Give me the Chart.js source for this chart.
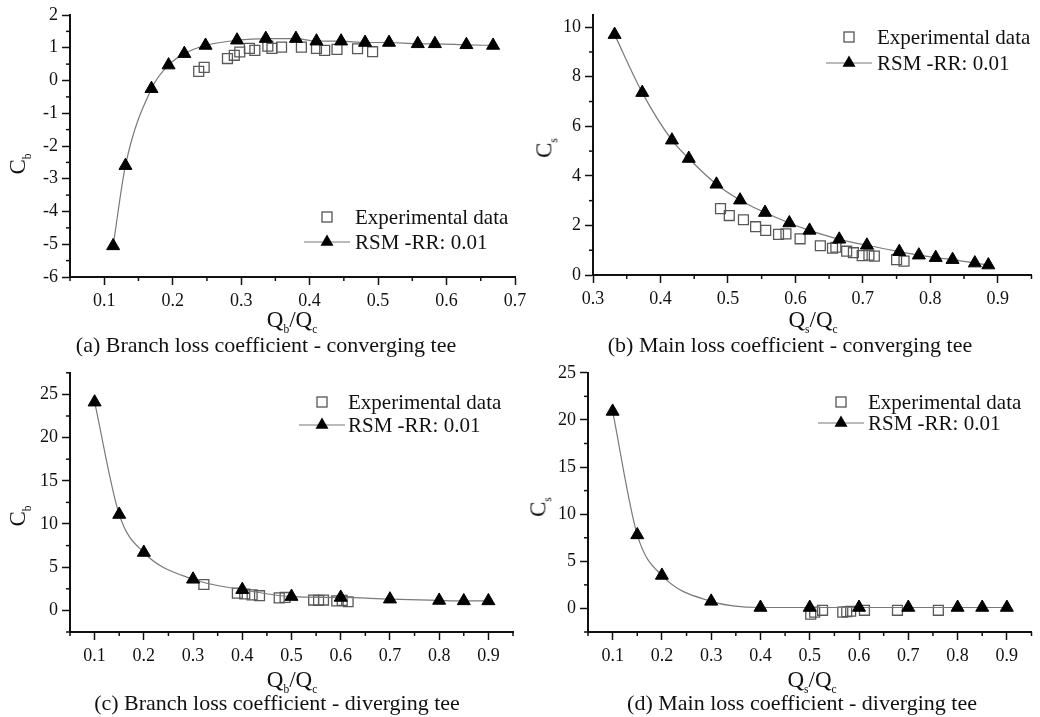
<!DOCTYPE html>
<html>
<head>
<meta charset="utf-8">
<script src="https://cdn.jsdelivr.net/npm/chart.js"></script>
<style>
  body { margin: 0; background: #fff; }
  #wrap { position: relative; width: 1040px; height: 717px; overflow: hidden;
          font-family: "Liberation Serif", "Times New Roman", serif; color: #111; }
  canvas { position: absolute; }
  .t { position: absolute; white-space: nowrap; transform: translate(-50%, -50%); line-height: 1; }
  .cap { font-size: 22px; }
  .ax { font-size: 23px; }
  .ax sub { font-size: 0.5em; vertical-align: -0.5em; }
  .yl { transform: translate(-50%, -50%) rotate(-90deg); }
  .lg { position: absolute; white-space: nowrap; font-size: 21px; line-height: 1; transform: translateY(-50%); }
</style>
</head>
<body>
<div id="wrap">
  <canvas id="chartA" width="560" height="360" style="left:0;top:0"></canvas>
  <canvas id="chartB" width="540" height="360" style="left:500px;top:0"></canvas>
  <canvas id="chartC" width="560" height="359" style="left:0;top:358px"></canvas>
  <canvas id="chartD" width="540" height="359" style="left:500px;top:358px"></canvas>

  <!-- axis titles -->
  <div class="t ax yl" style="left:20px;top:164px">C<sub>b</sub></div>
  <div class="t ax yl" style="left:546px;top:148px">C<sub>s</sub></div>
  <div class="t ax yl" style="left:20px;top:516px">C<sub>b</sub></div>
  <div class="t ax yl" style="left:540px;top:507px">C<sub>s</sub></div>
  <div class="t ax" style="left:292px;top:322px">Q<sub>b</sub>/Q<sub>c</sub></div>
  <div class="t ax" style="left:813px;top:322px">Q<sub>s</sub>/Q<sub>c</sub></div>
  <div class="t ax" style="left:292px;top:682px">Q<sub>b</sub>/Q<sub>c</sub></div>
  <div class="t ax" style="left:812px;top:682px">Q<sub>s</sub>/Q<sub>c</sub></div>

  <!-- captions -->
  <div class="t cap" style="left:266px;top:345px">(a) Branch loss coefficient - converging tee</div>
  <div class="t cap" style="left:790px;top:345px">(b) Main loss coefficient - converging tee</div>
  <div class="t cap" style="left:277px;top:703px">(c) Branch loss coefficient - diverging tee</div>
  <div class="t cap" style="left:802px;top:703px">(d) Main loss coefficient - diverging tee</div>

  <!-- legends -->
  <div class="lg" style="left:355px;top:217px">Experimental data</div>
  <div class="lg" style="left:355px;top:242px">RSM -RR: 0.01</div>
  <div class="lg" style="left:877px;top:37px">Experimental data</div>
  <div class="lg" style="left:877px;top:63px">RSM -RR: 0.01</div>
  <div class="lg" style="left:348px;top:402px">Experimental data</div>
  <div class="lg" style="left:348px;top:425px">RSM -RR: 0.01</div>
  <div class="lg" style="left:868px;top:402px">Experimental data</div>
  <div class="lg" style="left:868px;top:423px">RSM -RR: 0.01</div>
</div>

<script>
// (a) branch loss coefficient, converging tee
const aExpQ = [0.238, 0.246, 0.28, 0.29, 0.298, 0.312, 0.32, 0.339, 0.345, 0.359, 0.388, 0.41, 0.422, 0.44, 0.47, 0.492];
const aExpC = [0.28, 0.4, 0.67, 0.77, 0.87, 0.98, 0.92, 1.05, 0.98, 1.02, 1.02, 0.98, 0.92, 0.95, 0.97, 0.88];
const aRsmQ = [0.113, 0.131, 0.169, 0.194, 0.217, 0.248, 0.294, 0.336, 0.38, 0.41, 0.446, 0.481, 0.516, 0.558, 0.583, 0.629, 0.668];
const aRsmC = [-5.05, -2.6, -0.25, 0.47, 0.82, 1.07, 1.23, 1.28, 1.28, 1.2, 1.2, 1.16, 1.16, 1.12, 1.12, 1.09, 1.07];
const aXTicks = [0.1, 0.2, 0.3, 0.4, 0.5, 0.6, 0.7];
const aYTicks = [-6, -5, -4, -3, -2, -1, 0, 1, 2];

// (b) main loss coefficient, converging tee
const bExpQ = [0.489, 0.502, 0.523, 0.541, 0.556, 0.575, 0.586, 0.607, 0.637, 0.655, 0.66, 0.676, 0.686, 0.699, 0.709, 0.717, 0.75, 0.761];
const bExpC = [2.68, 2.4, 2.23, 1.95, 1.8, 1.64, 1.66, 1.46, 1.18, 1.08, 1.12, 0.96, 0.9, 0.78, 0.8, 0.76, 0.62, 0.56];
const bRsmQ = [0.332, 0.373, 0.417, 0.442, 0.483, 0.518, 0.555, 0.591, 0.621, 0.665, 0.706, 0.754, 0.783, 0.808, 0.833, 0.866, 0.886];
const bRsmC = [9.7, 7.36, 5.44, 4.7, 3.66, 3.02, 2.52, 2.1, 1.8, 1.44, 1.2, 0.94, 0.8, 0.7, 0.62, 0.48, 0.4];
const bXTicks = [0.3, 0.4, 0.5, 0.6, 0.7, 0.8, 0.9];
const bYTicks = [0, 2, 4, 6, 8, 10];

// (c) branch loss coefficient, diverging tee
const cExpQ = [0.322, 0.39, 0.405, 0.42, 0.435, 0.475, 0.487, 0.545, 0.555, 0.565, 0.592, 0.603, 0.615];
const cExpC = [3.0, 2.0, 1.9, 1.8, 1.7, 1.45, 1.5, 1.2, 1.15, 1.2, 1.1, 1.15, 1.0];
const cRsmQ = [0.1, 0.15, 0.2, 0.3, 0.4, 0.5, 0.6, 0.7, 0.8, 0.85, 0.9];
const cRsmC = [24.1, 11.1, 6.7, 3.6, 2.4, 1.6, 1.5, 1.3, 1.15, 1.1, 1.1];
const cXTicks = [0.1, 0.2, 0.3, 0.4, 0.5, 0.6, 0.7, 0.8, 0.9];
const cYTicks = [0, 5, 10, 15, 20, 25];

// (d) main loss coefficient, diverging tee
const dExpQ = [0.502, 0.51, 0.526, 0.567, 0.575, 0.583, 0.611, 0.678, 0.761];
const dExpC = [-0.6, -0.4, -0.2, -0.4, -0.35, -0.3, -0.2, -0.2, -0.2];
const dRsmQ = [0.1, 0.15, 0.2, 0.3, 0.4, 0.5, 0.6, 0.7, 0.8, 0.85, 0.9];
const dRsmC = [20.9, 7.8, 3.5, 0.75, 0.1, 0.1, 0.1, 0.1, 0.1, 0.1, 0.1];
const dXTicks = [0.1, 0.2, 0.3, 0.4, 0.5, 0.6, 0.7, 0.8, 0.9];
const dYTicks = [0, 5, 10, 15, 20, 25];

Chart.defaults.font.family = '"Liberation Serif", "Times New Roman", serif';
Chart.defaults.color = '#111';

const toPts = (xs, ys) => xs.map((x, i) => ({ x: x, y: ys[i] }));

// half-way ticks between the labelled ones (short marks, like Origin)
function minorsOf(major, min, max) {
    const half = (major[1] - major[0]) / 2;
    const out = [];
    if (major[0] - half >= min - 1e-9) out.push(major[0] - half);
    for (let i = 0; i < major.length - 1; i++) out.push((major[i] + major[i + 1]) / 2);
    const last = major[major.length - 1] + half;
    if (last <= max + 1e-9) out.push(last);
    return out;
}

const minorTicks = {
    id: 'minorTicks',
    afterDraw(chart, args, o) {
        const ctx = chart.ctx, xs = chart.scales.x, ys = chart.scales.y;
        ctx.save();
        ctx.strokeStyle = '#111';
        ctx.lineWidth = 1.5;
        o.x.forEach(v => {
            const px = xs.getPixelForValue(v);
            ctx.beginPath(); ctx.moveTo(px, xs.top); ctx.lineTo(px, xs.top + 4); ctx.stroke();
        });
        o.y.forEach(v => {
            const py = ys.getPixelForValue(v);
            ctx.beginPath(); ctx.moveTo(ys.right, py); ctx.lineTo(ys.right - 4, py); ctx.stroke();
        });
        ctx.restore();
    }
};

// legend symbols (text is html)
const legendMarks = {
    id: 'legendMarks',
    afterDraw(chart, args, o) {
        const ctx = chart.ctx;
        const x = o.x - o.ox, y1 = o.y1 - o.oy, y2 = o.y2 - o.oy;
        ctx.save();
        ctx.strokeStyle = '#555';
        ctx.lineWidth = 1.3;
        ctx.strokeRect(x - 5, y1 - 5, 10, 10);
        ctx.strokeStyle = '#777';
        ctx.lineWidth = 1.2;
        ctx.beginPath(); ctx.moveTo(x - 23, y2); ctx.lineTo(x + 23, y2); ctx.stroke();
        ctx.fillStyle = '#000';
        ctx.beginPath();
        ctx.moveTo(x, y2 - 7.5);
        ctx.lineTo(x + 6.5, y2 + 3.75);
        ctx.lineTo(x - 6.5, y2 + 3.75);
        ctx.closePath();
        ctx.fill();
        ctx.restore();
    }
};

function axis(min, max, major, isX, size, fmt) {
    return {
        type: 'linear',
        position: isX ? 'bottom' : 'left',
        min: min,
        max: max,
        afterBuildTicks: s => { s.ticks = major.map(v => ({ value: v })); },
        afterFit: s => { if (isX) s.height = size; else s.width = size; },
        ticks: { callback: fmt, font: { size: 18 }, padding: isX ? 5 : 4, autoSkip: false, maxRotation: 0, color: '#111' },
        grid: { drawOnChartArea: false, tickLength: 8, tickWidth: 1.5, tickColor: '#111' },
        border: { display: true, color: '#111', width: 2 }
    };
}

function makePanel(id, box, area, xr, yr, xTicks, yTicks, expQ, expC, rsmQ, rsmC, leg) {
    const fx = v => v.toFixed(1);
    const fy = v => String(v);
    new Chart(document.getElementById(id).getContext('2d'), {
        type: 'scatter',
        data: {
            datasets: [{
                label: 'RSM -RR: 0.01',
                data: toPts(rsmQ, rsmC),
                showLine: true,
                cubicInterpolationMode: 'monotone',
                borderColor: '#7a7a7a',
                borderWidth: 1.2,
                pointStyle: 'triangle',
                pointRadius: 7.5,
                pointBackgroundColor: '#000',
                pointBorderColor: '#000',
                pointBorderWidth: 1
            }, {
                label: 'Experimental data',
                data: toPts(expQ, expC),
                pointStyle: 'rect',
                pointRadius: 7,
                pointBackgroundColor: 'rgba(0,0,0,0)',
                pointBorderColor: '#585858',
                pointBorderWidth: 1.3
            }]
        },
        options: {
            responsive: false,
            animation: false,
            events: [],
            layout: {
                padding: {
                    left: 0,
                    top: area.T - box.top,
                    right: box.left + box.w - area.R,
                    bottom: box.top + box.h - area.B - 40
                }
            },
            scales: {
                x: axis(xr[0], xr[1], xTicks, true, 40, fx),
                y: axis(yr[0], yr[1], yTicks, false, area.L - box.left, fy)
            },
            plugins: {
                legend: { display: false },
                tooltip: { enabled: false },
                minorTicks: { x: minorsOf(xTicks, xr[0], xr[1]), y: minorsOf(yTicks, yr[0], yr[1]) },
                legendMarks: { x: leg[0], y1: leg[1], y2: leg[2], ox: box.left, oy: box.top }
            }
        },
        plugins: [minorTicks, legendMarks]
    });
}

makePanel('chartA', { left: 0, top: 0, w: 560, h: 360 }, { L: 70, T: 15, R: 515, B: 277 },
    [0.05, 0.7], [-6, 2], aXTicks, aYTicks, aExpQ, aExpC, aRsmQ, aRsmC, [327, 217, 242]);
makePanel('chartB', { left: 500, top: 0, w: 540, h: 360 }, { L: 593, T: 12.5, R: 1037, B: 275 },
    [0.3, 0.95], [0, 10.5], bXTicks, bYTicks, bExpQ, bExpC, bRsmQ, bRsmC, [849, 37, 63]);
makePanel('chartC', { left: 0, top: 358, w: 560, h: 359 }, { L: 70, T: 370, R: 513, B: 632 },
    [0.05, 0.95], [-2.5, 27.5], cXTicks, cYTicks, cExpQ, cExpC, cRsmQ, cRsmC, [322, 402, 425]);
makePanel('chartD', { left: 500, top: 358, w: 540, h: 359 }, { L: 588, T: 370, R: 1033, B: 632 },
    [0.05, 0.95], [-2.5, 25], dXTicks, dYTicks, dExpQ, dExpC, dRsmQ, dRsmC, [841, 402, 423]);
</script>
</body>
</html>
